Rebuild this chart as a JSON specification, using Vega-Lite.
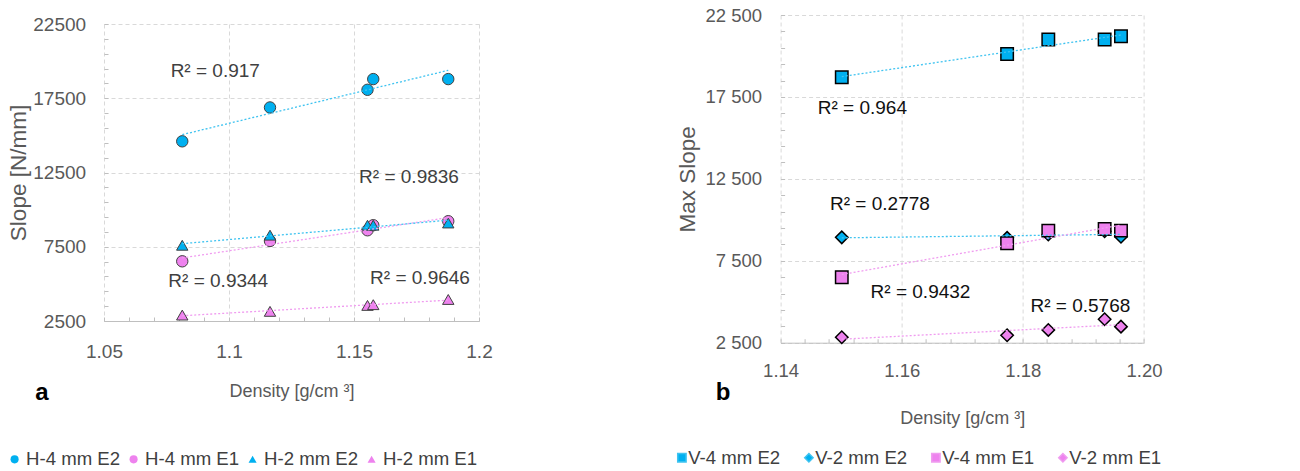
{
  "$schema": "https://vega.github.io/schema/vega-lite/v6.json",
  "background": "white",
  "padding": {"left": 5, "top": 6, "right": 5, "bottom": 0},
  "bounds": "flush",
  "spacing": 676.6,
  "resolve": {
    "scale": {"fill": "independent", "shape": "independent", "stroke": "independent"},
    "legend": {"fill": "independent", "shape": "independent"}
  },
  "datasets": {
    "a": [
      {"series": "H-4 mm E2", "density": 1.0813, "slope": 14600},
      {"series": "H-4 mm E2", "density": 1.1164, "slope": 16880},
      {"series": "H-4 mm E2", "density": 1.1554, "slope": 18070},
      {"series": "H-4 mm E2", "density": 1.1577, "slope": 18790},
      {"series": "H-4 mm E2", "density": 1.1877, "slope": 18790},
      {"series": "H-4 mm E1", "density": 1.0813, "slope": 6520},
      {"series": "H-4 mm E1", "density": 1.1164, "slope": 7890},
      {"series": "H-4 mm E1", "density": 1.1554, "slope": 8610},
      {"series": "H-4 mm E1", "density": 1.1577, "slope": 8950},
      {"series": "H-4 mm E1", "density": 1.1877, "slope": 9220},
      {"series": "H-2 mm E2", "density": 1.0813, "slope": 7600},
      {"series": "H-2 mm E2", "density": 1.1164, "slope": 8280},
      {"series": "H-2 mm E2", "density": 1.1554, "slope": 8950},
      {"series": "H-2 mm E2", "density": 1.1577, "slope": 8950},
      {"series": "H-2 mm E2", "density": 1.1877, "slope": 9100},
      {"series": "H-2 mm E1", "density": 1.0813, "slope": 2900},
      {"series": "H-2 mm E1", "density": 1.1164, "slope": 3150},
      {"series": "H-2 mm E1", "density": 1.1554, "slope": 3550},
      {"series": "H-2 mm E1", "density": 1.1577, "slope": 3600},
      {"series": "H-2 mm E1", "density": 1.1877, "slope": 3950}
    ],
    "b": [
      {"series": "V-4 mm E2", "density": 1.1501, "slope": 18700},
      {"series": "V-4 mm E2", "density": 1.1774, "slope": 20120},
      {"series": "V-4 mm E2", "density": 1.1842, "slope": 21000},
      {"series": "V-4 mm E2", "density": 1.1935, "slope": 21000},
      {"series": "V-4 mm E2", "density": 1.1962, "slope": 21200},
      {"series": "V-2 mm E2", "density": 1.1501, "slope": 8930},
      {"series": "V-2 mm E2", "density": 1.1774, "slope": 8900},
      {"series": "V-2 mm E2", "density": 1.1842, "slope": 9100},
      {"series": "V-2 mm E2", "density": 1.1935, "slope": 9300},
      {"series": "V-2 mm E2", "density": 1.1962, "slope": 8970},
      {"series": "V-4 mm E1", "density": 1.1501, "slope": 6500},
      {"series": "V-4 mm E1", "density": 1.1774, "slope": 8570},
      {"series": "V-4 mm E1", "density": 1.1842, "slope": 9340},
      {"series": "V-4 mm E1", "density": 1.1935, "slope": 9440},
      {"series": "V-4 mm E1", "density": 1.1962, "slope": 9340},
      {"series": "V-2 mm E1", "density": 1.1501, "slope": 2830},
      {"series": "V-2 mm E1", "density": 1.1774, "slope": 2950},
      {"series": "V-2 mm E1", "density": 1.1842, "slope": 3280},
      {"series": "V-2 mm E1", "density": 1.1935, "slope": 3930},
      {"series": "V-2 mm E1", "density": 1.1962, "slope": 3480}
    ],
    "annA": [
      {"density": 1.0945, "slope": 19330, "label": "R² = 0.917"},
      {"density": 1.172, "slope": 12200, "label": "R² = 0.9836"},
      {"density": 1.0957, "slope": 5175, "label": "R² = 0.9344"},
      {"density": 1.1764, "slope": 5425, "label": "R² = 0.9646"}
    ],
    "annB": [
      {"density": 1.1535, "slope": 16850, "label": "R² = 0.964"},
      {"density": 1.1564, "slope": 10970, "label": "R² = 0.2778"},
      {"density": 1.1631, "slope": 5610, "label": "R² = 0.9432"},
      {"density": 1.1895, "slope": 4740, "label": "R² = 0.5768"}
    ],
    "tagA": [{"density": 1.0252, "slope": -2844, "label": "a"}],
    "tagB": [{"density": 1.1305, "slope": -998, "label": "b"}]
  },
  "config": {
    "view": {"stroke": null},
    "font": "Liberation Sans",
    "axis": {
      "labelFont": "Liberation Sans",
      "labelFontSize": 19,
      "labelColor": "#595959",
      "titleFont": "Liberation Sans",
      "titleFontSize": 18,
      "titleFontWeight": "normal",
      "titleColor": "#595959",
      "gridColor": "#D9D9D9",
      "gridDash": [4, 3],
      "gridWidth": 1,
      "tickColor": "#BFBFBF",
      "tickSize": -4,
      "domainColor": "#BFBFBF",
      "labelFlush": false,
      "labelOverlap": false
    },
    "axisY": {"domain": false, "titleFontSize": 22.5},
    "text": {"font": "Liberation Sans"}
  },
  "hconcat": [
    {
      "vconcat": [
        {
          "width": 375,
          "height": 9,
          "data": {"values": [{"t": ""}]},
          "mark": {"type": "text"},
          "encoding": {"text": {"field": "t"}}
        },
        {
          "width": 375,
          "height": 297,
          "resolve": {"axis": {"x": "independent", "y": "independent"}},
          "layer": [
            {
              "data": {"name": "a"},
              "mark": {"type": "point", "filled": true, "opacity": 1, "stroke": "#404040", "strokeWidth": 1, "size": 130},
              "encoding": {
                "x": {
                  "field": "density", "type": "quantitative",
                  "scale": {"domain": [1.05, 1.2], "nice": false, "zero": false},
                  "axis": {
                    "title": "Density [g/cm ³]",
                    "values": [1.05, 1.1, 1.15, 1.2],
                    "format": ".2~f",
                    "labelOverlap": false,
                    "labelFlush": false,
                    "labelPadding": 25,
                    "titlePadding": 21
                  }
                },
                "y": {
                  "field": "slope", "type": "quantitative",
                  "scale": {"domain": [2500, 22500], "nice": false, "zero": false},
                  "axis": {
                    "title": "Slope [N/mm]",
                    "values": [2500, 7500, 12500, 17500, 22500],
                    "format": "d",
                    "labelOverlap": false,
                    "labelFlush": false,
                    "labelPadding": 22.4,
                    "titlePadding": 2
                  }
                },
                "fill": {
                  "field": "series", "type": "nominal",
                  "scale": {"domain": ["H-4 mm E2", "H-4 mm E1", "H-2 mm E2", "H-2 mm E1"], "range": ["#00B0F0", "#EE82EE", "#00B0F0", "#EE82EE"]},
                  "legend": {"title": null, "orient": "none", "legendX": -98.7, "legendY": 426, "direction": "horizontal", "columns": 4, "labelFont": "Liberation Sans", "labelFontSize": 18.6, "labelColor": "#404040", "symbolSize": 65, "symbolStrokeColor": "#404040", "symbolStrokeWidth": 1, "columnPadding": 4, "labelOffset": 2.2, "padding": 0}
                },
                "shape": {
                  "field": "series", "type": "nominal",
                  "scale": {"domain": ["H-4 mm E2", "H-4 mm E1", "H-2 mm E2", "H-2 mm E1"], "range": ["circle", "circle", "triangle-up", "triangle-up"]},
                  "legend": {"title": null, "orient": "none", "legendX": -98.7, "legendY": 426, "direction": "horizontal", "columns": 4, "labelFont": "Liberation Sans", "labelFontSize": 18.6, "labelColor": "#404040", "symbolSize": 65, "symbolStrokeColor": "#404040", "symbolStrokeWidth": 1, "columnPadding": 4, "labelOffset": 2.2, "padding": 0}
                }
              }
            },
            {
              "data": {"name": "a"},
              "transform": [{"regression": "slope", "on": "density", "groupby": ["series"]}],
              "mark": {"type": "line", "strokeDash": [2, 2], "strokeWidth": 1.3},
              "encoding": {
                "x": {
                  "field": "density", "type": "quantitative",
                  "axis": {"values": [1.06, 1.07, 1.08, 1.09, 1.11, 1.12, 1.13, 1.14, 1.16, 1.17, 1.18, 1.19], "labels": false, "grid": false, "domain": false, "title": null, "orient": "bottom"}
                },
                "y": {
                  "field": "slope", "type": "quantitative",
                  "axis": {"values": [3500, 4500, 5500, 6500, 8500, 9500, 10500, 11500, 13500, 14500, 15500, 16500, 18500, 19500, 20500, 21500], "labels": false, "grid": false, "domain": false, "title": null, "orient": "left"}
                },
                "detail": {"field": "series", "type": "nominal"},
                "stroke": {
                  "field": "series", "type": "nominal",
                  "scale": {"domain": ["H-4 mm E2", "H-4 mm E1", "H-2 mm E2", "H-2 mm E1"], "range": ["#3FC3F0", "#F09CF0", "#3FC3F0", "#F09CF0"]},
                  "legend": null
                }
              }
            },
            {
              "data": {"name": "annA"},
              "mark": {"type": "text", "font": "Liberation Sans", "fontSize": 19, "color": "#404040", "align": "center", "baseline": "middle"},
              "encoding": {
                "x": {"field": "density", "type": "quantitative", "axis": null},
                "y": {"field": "slope", "type": "quantitative", "axis": null},
                "text": {"field": "label"}
              }
            },
            {
              "data": {"name": "tagA"},
              "mark": {"type": "text", "font": "Liberation Sans", "fontWeight": "bold", "fontSize": 24, "color": "#000000", "align": "center", "baseline": "alphabetic"},
              "encoding": {
                "x": {"field": "density", "type": "quantitative", "axis": null},
                "y": {"field": "slope", "type": "quantitative", "axis": null},
                "text": {"field": "label"}
              }
            }
          ]
        }
      ],
      "spacing": 0,
      "bounds": "flush",
      "resolve": {"legend": {"fill": "independent", "shape": "independent"}}
    },
    {
      "width": 363.4,
      "height": 327.7,
      "resolve": {"axis": {"x": "independent", "y": "independent"}},
      "layer": [
        {
          "data": {"name": "b"},
          "mark": {"type": "point", "filled": true, "opacity": 1, "stroke": "#000000", "strokeWidth": 1.5, "size": 155},
          "encoding": {
            "x": {
              "field": "density", "type": "quantitative",
              "scale": {"domain": [1.14, 1.2], "nice": false, "zero": false},
              "axis": {
                "title": "Density [g/cm ³]",
                "values": [1.14, 1.16, 1.18, 1.2],
                "format": ".2f",
                "labelOverlap": false,
                "labelFlush": false,
                "labelFontSize": 18.5,
                "labelPadding": 23,
                "titlePadding": 29
              }
            },
            "y": {
              "field": "slope", "type": "quantitative",
              "scale": {"domain": [2500, 22500], "nice": false, "zero": false},
              "axis": {
                "title": "Max Slope",
                "values": [2500, 7500, 12500, 17500, 22500],
                "labelExpr": "replace(format(datum.value, ','), ',', ' ')",
                "labelOverlap": false,
                "labelFlush": false,
                "labelFontSize": 18.5,
                "labelPadding": 23,
                "titlePadding": 6
              }
            },
            "fill": {
              "field": "series", "type": "nominal",
              "scale": {"domain": ["V-4 mm E2", "V-2 mm E2", "V-4 mm E1", "V-2 mm E1"], "range": ["#00B0F0", "#00B0F0", "#EE82EE", "#EE82EE"]},
              "legend": {"title": null, "orient": "none", "legendX": -108, "legendY": 433.4, "direction": "horizontal", "columns": 4, "labelFont": "Liberation Sans", "labelFontSize": 18.6, "labelColor": "#404040", "symbolSize": 70, "symbolStrokeColor": "#000000", "symbolStrokeWidth": 1.5, "columnPadding": 19, "labelOffset": -3, "padding": 0}
            },
            "shape": {
              "field": "series", "type": "nominal",
              "scale": {"domain": ["V-4 mm E2", "V-2 mm E2", "V-4 mm E1", "V-2 mm E1"], "range": ["square", "diamond", "square", "diamond"]},
              "legend": {"title": null, "orient": "none", "legendX": -108, "legendY": 433.4, "direction": "horizontal", "columns": 4, "labelFont": "Liberation Sans", "labelFontSize": 18.6, "labelColor": "#404040", "symbolSize": 70, "symbolStrokeColor": "#000000", "symbolStrokeWidth": 1.5, "columnPadding": 19, "labelOffset": -3, "padding": 0}
            }
          }
        },
        {
          "data": {"name": "b"},
          "transform": [{"regression": "slope", "on": "density", "groupby": ["series"]}],
          "mark": {"type": "line", "strokeDash": [2, 2], "strokeWidth": 1.3},
          "encoding": {
            "x": {
              "field": "density", "type": "quantitative",
              "axis": {"values": [1.144, 1.148, 1.152, 1.156, 1.164, 1.168, 1.172, 1.176, 1.184, 1.188, 1.192, 1.196], "labels": false, "grid": false, "domain": false, "title": null, "orient": "bottom"}
            },
            "y": {
              "field": "slope", "type": "quantitative",
              "axis": {"values": [3500, 4500, 5500, 6500, 8500, 9500, 10500, 11500, 13500, 14500, 15500, 16500, 18500, 19500, 20500, 21500], "labels": false, "grid": false, "domain": false, "title": null, "orient": "left"}
            },
            "detail": {"field": "series", "type": "nominal"},
            "stroke": {
              "field": "series", "type": "nominal",
              "scale": {"domain": ["V-4 mm E2", "V-2 mm E2", "V-4 mm E1", "V-2 mm E1"], "range": ["#3FC3F0", "#3FC3F0", "#F09CF0", "#F09CF0"]},
              "legend": null
            }
          }
        },
        {
          "data": {"name": "annB"},
          "mark": {"type": "text", "font": "Liberation Sans", "fontSize": 19, "color": "#111111", "align": "center", "baseline": "middle"},
          "encoding": {
            "x": {"field": "density", "type": "quantitative", "axis": null},
            "y": {"field": "slope", "type": "quantitative", "axis": null},
            "text": {"field": "label"}
          }
        },
        {
          "data": {"name": "tagB"},
          "mark": {"type": "text", "font": "Liberation Sans", "fontWeight": "bold", "fontSize": 24, "color": "#000000", "align": "center", "baseline": "alphabetic"},
          "encoding": {
            "x": {"field": "density", "type": "quantitative", "axis": null},
            "y": {"field": "slope", "type": "quantitative", "axis": null},
            "text": {"field": "label"}
          }
        }
      ]
    }
  ]
}
